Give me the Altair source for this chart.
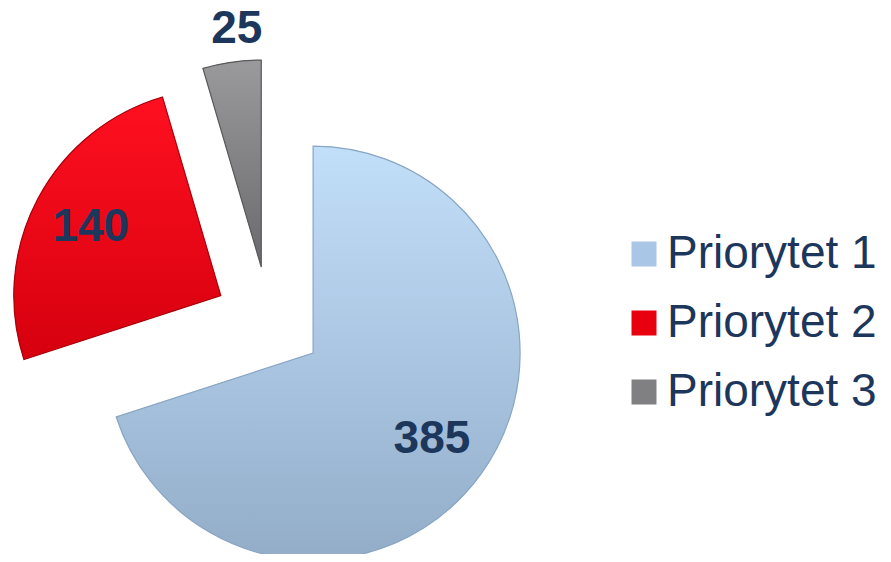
import altair as alt
import pandas as pd

categories = ["Priorytet 1", "Priorytet 2", "Priorytet 3"]
values = [385, 140, 25]
order = [1, 2, 3]

legend_colors = ["#A9C6E6", "#E8000F", "#808082"]
grad_top = ["#C2DFFA", "#FF1020", "#9A9A9C"]
grad_bot = ["#93ADC9", "#D6000E", "#6A6A6C"]
strokes = ["#8AA6C2", "#A8000C", "#5A5A5C"]

NAVY = "#1C365C"
CX, CY, R, EXPLODE = 261, 313, 207, 54.5

df = pd.DataFrame({"cat": categories, "value": values, "idx": order})

base = alt.Chart(df).transform_joinaggregate(
    total="sum(value)"
).transform_window(
    cum="sum(value)", sort=[alt.SortField("idx")], frame=[None, 0]
).transform_calculate(
    a1="datum.cum / datum.total * 2 * PI",
    a0="(datum.cum - datum.value) / datum.total * 2 * PI",
).transform_calculate(
    mid="(datum.a0 + datum.a1) / 2",
    outside="datum.value / datum.total < 0.1",
).transform_calculate(
    cx=f"{CX} + {EXPLODE} * sin(datum.mid)",
    cy=f"{CY} - {EXPLODE} * cos(datum.mid)",
    lr=f"datum.outside ? {R} + 32 : 0.71 * {R}",
    la="datum.outside ? datum.mid + 0.04 : datum.mid",
).transform_calculate(
    lx="datum.cx + datum.lr * sin(datum.la)",
    ly="datum.cy - datum.lr * cos(datum.la)",
)

arc_enc = dict(
    theta=alt.Theta("a0:Q", scale=None, stack=False),
    theta2="a1:Q",
    x=alt.X("cx:Q", scale=None),
    y=alt.Y("cy:Q", scale=None),
)

legend_layer = base.mark_arc(outerRadius=R).encode(
    color=alt.Color(
        "cat:N",
        scale=alt.Scale(domain=categories, range=legend_colors),
        legend=alt.Legend(
            title=None,
            orient="none",
            legendX=613,
            legendY=223,
            symbolType="square",
            symbolSize=625,
            symbolStrokeWidth=0,
            labelFontSize=46,
            labelFont="Liberation Sans",
            labelColor=NAVY,
            labelOffset=0,
            rowPadding=23,
            labelLimit=400,
        ),
    ),
    **arc_enc,
)

layers = [legend_layer]
for i, c in enumerate(categories):
    layers.append(
        base.transform_filter(alt.datum.cat == c).mark_arc(
            outerRadius=R,
            fill=alt.Gradient(
                gradient="linear",
                stops=[
                    alt.GradientStop(color=grad_top[i], offset=0),
                    alt.GradientStop(color=grad_bot[i], offset=1),
                ],
                x1=0, x2=0, y1=0, y2=1,
            ),
            stroke=strokes[i],
            strokeWidth=1.2,
        ).encode(**arc_enc)
    )

labels = base.mark_text(
    font="Liberation Sans", fontSize=46, fontWeight="bold", color=NAVY,
    align="center", baseline="middle",
).encode(
    x=alt.X("lx:Q", scale=None),
    y=alt.Y("ly:Q", scale=None),
    text="value:Q",
)
layers.append(labels)

chart = alt.layer(*layers).properties(
    width=875, height=546, padding=0,
    autosize=alt.AutoSizeParams(type="none"),
).configure_view(stroke=None)

chart.save("out.html", embed_options={"renderer": "svg", "actions": False})
